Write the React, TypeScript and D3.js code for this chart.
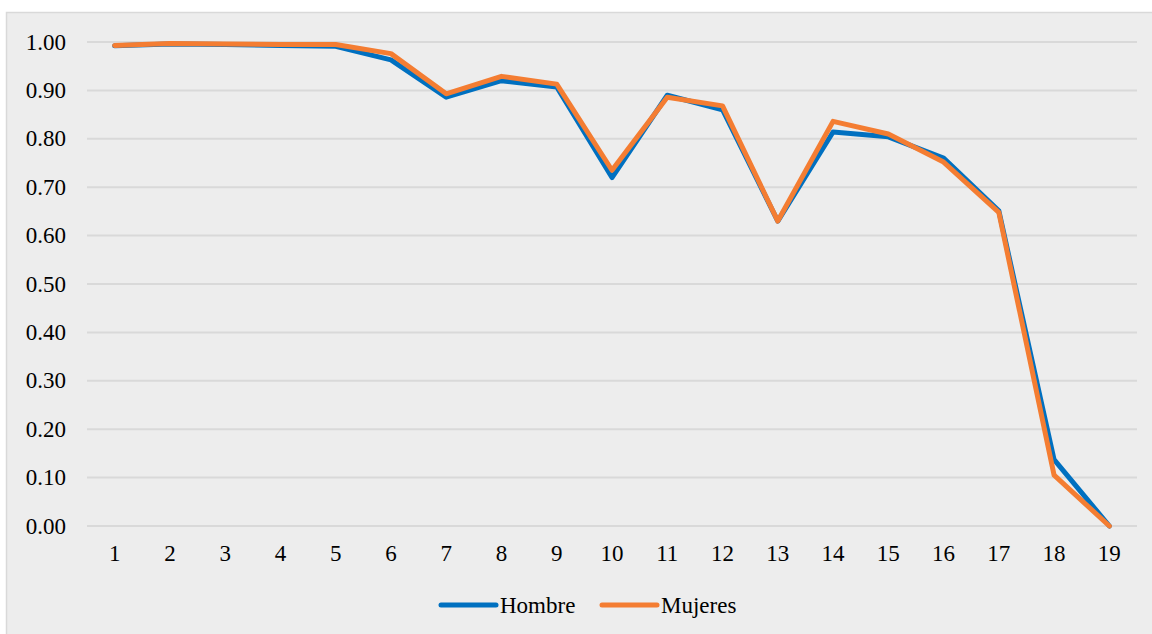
import React from "react";
import * as d3 from "d3";

const categories = ["1","2","3","4","5","6","7","8","9","10","11","12","13","14","15","16","17","18","19"];
const hombre = [0.992,0.996,0.995,0.993,0.991,0.963,0.886,0.920,0.907,0.720,0.890,0.860,0.630,0.814,0.804,0.760,0.651,0.137,0.0];
const mujeres = [0.993,0.997,0.996,0.995,0.995,0.976,0.893,0.929,0.913,0.735,0.886,0.868,0.630,0.836,0.810,0.752,0.648,0.105,0.0];
const yTicks = [0,0.1,0.2,0.3,0.4,0.5,0.6,0.7,0.8,0.9,1.0];
const seriesNames = ["Hombre", "Mujeres"];
const colors = ["#0070C0", "#F47D32"];

const W = 1152, H = 634;
const plotLeft = 87, plotRight = 1137, plotTop = 42, plotBottom = 526;
const textStyle: React.CSSProperties = {
  fontFamily: '"Times New Roman", "Liberation Serif", Tinos, "DejaVu Serif", serif',
  fontSize: "23px",
};

export default function App() {
  const x = d3.scaleBand<string>().domain(categories).range([plotLeft, plotRight]);
  const y = d3.scaleLinear().domain([0, 1]).range([plotBottom, plotTop]);
  const line = d3.line<number>()
    .x((_, i) => (x(categories[i]) as number) + x.bandwidth() / 2)
    .y((d) => y(d));
  const series = [hombre, mujeres];
  return (
    <svg width={W} height={H} style={{ position: "absolute", left: 0, top: 0 }}>
      <rect x={0} y={0} width={W} height={H} fill="#ffffff" />
      <rect x={6.5} y={12.5} width={W + 10} height={H + 10} fill="#EDEDED" stroke="#D9D9D9" strokeWidth={1.5} />
      {yTicks.map((t) => (
        <g key={t}>
          <line x1={plotLeft} x2={plotRight} y1={y(t)} y2={y(t)} stroke="#D9D9D9" strokeWidth={2} />
          <text x={66} y={y(t)} dy="0.33em" textAnchor="end" style={textStyle} fill="#000">
            {t.toFixed(2)}
          </text>
        </g>
      ))}
      {categories.map((c) => (
        <text key={c} x={(x(c) as number) + x.bandwidth() / 2} y={561} textAnchor="middle" style={textStyle} fill="#000">
          {c}
        </text>
      ))}
      {series.map((s, i) => (
        <path key={i} d={line(s) || ""} fill="none" stroke={colors[i]} strokeWidth={5} strokeLinejoin="round" strokeLinecap="round" />
      ))}
      {seriesNames.map((n, i) => {
        const lx = i === 0 ? 441 : 602;
        return (
          <g key={n}>
            <line x1={lx} x2={lx + 55} y1={605} y2={605} stroke={colors[i]} strokeWidth={5} strokeLinecap="round" />
            <text x={lx + 59} y={613} style={textStyle} fill="#000">{n}</text>
          </g>
        );
      })}
    </svg>
  );
}
